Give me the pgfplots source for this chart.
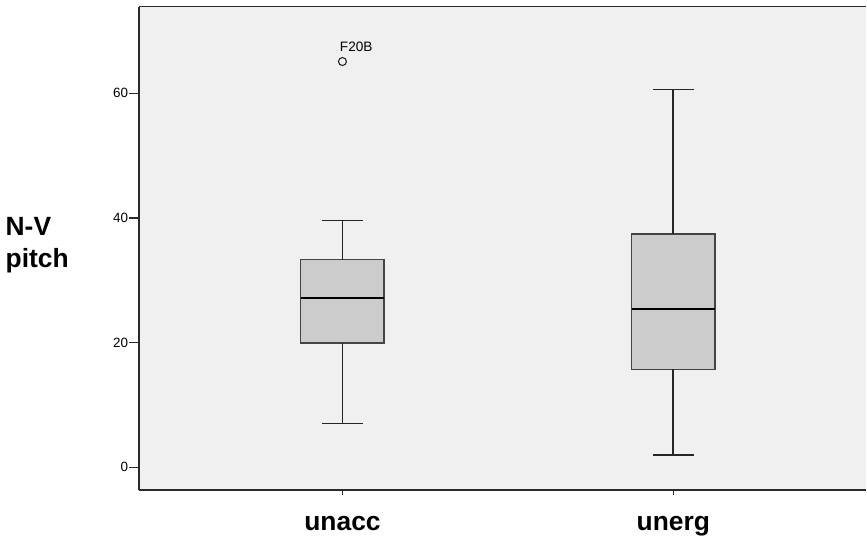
\documentclass[border=0pt]{standalone}
\usepackage{fontspec}
\setmainfont{Liberation Sans}
\usepackage{pgfplots}
\pgfplotsset{compat=1.18}
\definecolor{bgc}{HTML}{F0F0F0}
\definecolor{boxc}{HTML}{CCCCCC}
\definecolor{edgec}{HTML}{444444}
\definecolor{axc}{HTML}{2A2A2A}
\begin{document}
\begin{tikzpicture}
\path (0,0) rectangle (867bp,536bp);
\begin{axis}[
  at={(139.3bp,45.3bp)}, anchor=south west,
  scale only axis, width=727.7bp, height=484bp,
  xmin=-0.6144, xmax=1.5828, ymin=-3.7, ymax=73.9,
  axis background/.style={fill=bgc},
  axis x line*=box, axis y line*=left,
  axis line style={axc, line width=1.6bp},
  xtick={0,1}, xticklabels={unacc,unerg},
  ytick={0,20,40,60},
  xtick pos=bottom, ytick pos=left,
  tick align=outside, major tick length=10bp,
  xtick style={draw=none},
  ytick style={axc, line width=1.2bp},
  xticklabel style={font=\fontsize{26.5}{30}\selectfont\bfseries, anchor=base, yshift=-30bp},
  yticklabel style={font=\fontsize{13.5}{16}\selectfont, inner xsep=1bp},
  /pgf/number format/assume math mode=true,
  unbounded coords=jump,
  clip=false,
]
% unacc: lower whisker 7.0, Q1 19.9, median 27.2, Q3 33.3, upper whisker 39.6
\addplot[draw=edgec, fill=boxc, line width=1.4bp] coordinates {(-0.126,19.9) (0.126,19.9) (0.126,33.3) (-0.126,33.3)} -- cycle;
\addplot[black!85, line width=1.8bp] coordinates {(0,33.3) (0,39.6) (0,nan) (-0.0625,39.6) (0.0625,39.6) (0,nan) (0,19.9) (0,7.0) (0,nan) (-0.0625,7.0) (0.0625,7.0)};
\addplot[black, line width=2.4bp] coordinates {(-0.126,27.2) (0.126,27.2)};
\addplot[only marks, mark=o, mark size=4bp, mark options={line width=1.1bp, draw=black!85, fill=none}] coordinates {(0,65.1)};
% unerg: lower whisker 2.0, Q1 15.7, median 25.4, Q3 37.4, upper whisker 60.6
\addplot[draw=edgec, fill=boxc, line width=1.4bp] coordinates {(0.874,15.7) (1.126,15.7) (1.126,37.4) (0.874,37.4)} -- cycle;
\addplot[black!85, line width=1.8bp] coordinates {(1,37.4) (1,60.6) (1,nan) (0.9375,60.6) (1.0625,60.6) (1,nan) (1,15.7) (1,2.0) (1,nan) (0.9375,2.0) (1.0625,2.0)};
\addplot[black, line width=2.4bp] coordinates {(0.874,25.4) (1.126,25.4)};
\node[anchor=base west, inner sep=0, font=\fontsize{13.7}{16}\selectfont, xshift=-2.7bp, yshift=10bp] at (axis cs:0,65.1) {F20B};
% short x-axis tick marks
\draw[axc, line width=1.2bp] (axis cs:0,-3.7) -- ([yshift=-4.5bp]axis cs:0,-3.7);
\draw[axc, line width=1.2bp] (axis cs:1,-3.7) -- ([yshift=-4.5bp]axis cs:1,-3.7);
\end{axis}
\node[anchor=base west, inner sep=0, font=\fontsize{26.5}{30}\selectfont\bfseries] at (5.5bp,300.3bp) {N-V};
\node[anchor=base west, inner sep=0, font=\fontsize{26.5}{30}\selectfont\bfseries] at (5.5bp,268.7bp) {pitch};
\end{tikzpicture}
\end{document}
